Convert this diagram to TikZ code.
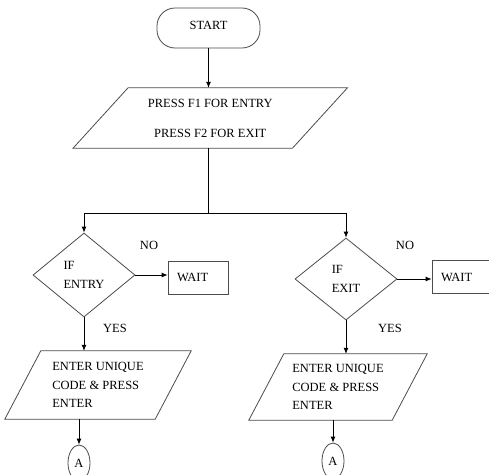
\documentclass[tikz,border=0pt]{standalone}
\usepackage{fontspec}
\setmainfont{Liberation Serif}
\usetikzlibrary{shapes.geometric,arrows.meta}
\begin{document}
\begin{tikzpicture}[x=1pt,y=-1pt,
  every node/.style={font=\fontsize{12.5}{18.5}\selectfont, inner sep=0pt},
  shp/.style={draw=black!70, line width=0.8pt},
  conn/.style={draw=black, line width=0.8pt},
  arr/.style={conn, -{Latex[length=6pt,width=5pt]}},
  dec/.style={shape=diamond, shp, align=left, minimum width=102pt},
  waitbox/.style={shp, rectangle, text width=42pt, align=left, inner xsep=9pt, minimum height=33pt},
  conn-ell/.style={shape=ellipse, shp, minimum width=22pt, minimum height=36pt}
]
\clip (0,0) rectangle (489,474);
\fill[white] (0,0) rectangle (489,474);

% start
\node[shp, rounded corners=18pt, minimum width=103pt, minimum height=40pt] (start) at (208.5,28) {};
\node (starttxt) at (208.5,25.5) {START};

% top parallelogram
\node[minimum width=219pt, minimum height=60pt, align=center] (p1) at (210.25,118) {PRESS F1 FOR ENTRY\\[11.5pt]PRESS F2 FOR EXIT};
\draw[shp] ([xshift=27.5pt]p1.north west) -- ([xshift=27.5pt]p1.north east)
  -- ([xshift=-27.5pt]p1.south east) -- ([xshift=-27.5pt]p1.south west) -- cycle;

\coordinate (split) at (208,213);

% decisions
\node[dec, minimum height=84pt] (d1) at (84,275) {IF\\ENTRY};
\node[dec, minimum height=82pt] (d2) at (346,279) {IF\\EXIT};

% wait boxes
\node[waitbox] (w1) at (198,277.5) {WAIT};
\node[waitbox] (w2) at (462,277) {WAIT};

% labels
\node (no1) at (149,245) {NO};
\node (no2) at (405,245) {NO};
\node (yes1) at (115,328) {YES};
\node (yes2) at (390,328) {YES};

% lower parallelograms
\node[minimum width=150pt, minimum height=68pt, align=left] (p2) at (98,385) {ENTER UNIQUE\\CODE \& PRESS\\ENTER};
\draw[shp] ([xshift=18pt]p2.north west) -- ([xshift=18pt]p2.north east)
  -- ([xshift=-18pt]p2.south east) -- ([xshift=-18pt]p2.south west) -- cycle;
\node[minimum width=143pt, minimum height=66pt, align=left] (p3) at (338,387) {ENTER UNIQUE\\CODE \& PRESS\\ENTER};
\draw[shp] ([xshift=17.5pt]p3.north west) -- ([xshift=17.5pt]p3.north east)
  -- ([xshift=-17.5pt]p3.south east) -- ([xshift=-17.5pt]p3.south west) -- cycle;

% connectors A
\node[conn-ell] (a1) at (79,463) {A};
\node[conn-ell] (a2) at (333,461) {A};

% connectors
\draw[arr] (start.south) -- (start.south |- p1.north);
\draw[conn] (split |- p1.south) -- (split);
\draw[arr] (split) -| (d1.north);
\draw[arr] (split) -| (d2.north);
\draw[arr] (d1.east) -- (d1.east -| w1.west);
\draw[arr] (d2.east) -- (d2.east -| w2.west);
\draw[arr] (d1.south) -- (d1.south |- p2.north);
\draw[arr] (d2.south) -- (d2.south |- p3.north);
\draw[arr] (a1.north |- p2.south) -- (a1.north);
\draw[arr] (a2.north |- p3.south) -- (a2.north);
\end{tikzpicture}
\end{document}
